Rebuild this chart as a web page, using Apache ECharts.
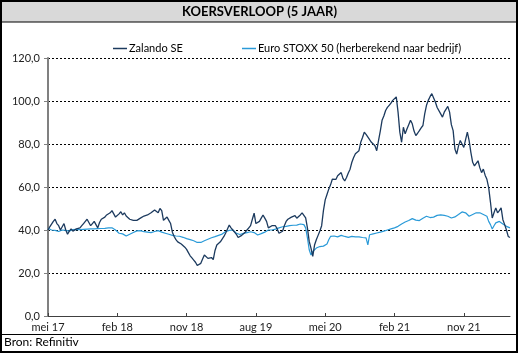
<!DOCTYPE html>
<html>
<head>
<meta charset="utf-8">
<script src="https://cdn.jsdelivr.net/npm/echarts@6/dist/echarts.min.js"></script>
<style>
html,body{margin:0;padding:0;background:#fff;}
#c{width:519px;height:356px;}
</style>
</head>
<body>
<div id="c"></div>
<script>
const titleText = 'KOERSVERLOOP (5 JAAR)';
const sourceText = 'Bron: Refinitiv';
const seriesNames = ['Zalando SE', 'Euro STOXX 50 (herberekend naar bedrijf)'];
const xTickLabels = ['mei 17', 'feb 18', 'nov 18', 'aug 19', 'mei 20', 'feb 21', 'nov 21'];
const xTickIndex = [0, 39, 78, 117, 156, 195, 234];
const yTicks = [0, 20, 40, 60, 80, 100, 120];

const zalando = [
40,41.5,42,44,45,43,42,40,41.5,43,40,38,39.5,40.5,39.5,40,40.5,40,41,42,
43,44,45,43.5,42,43,44,42.5,41,43.5,45,45.5,46,47,47.5,48,49,47.5,46,46.5,
47.5,48.5,47,48,46.5,46,45,45.5,44.5,44,44.5,45,45.5,46,46.5,46,47,47.5,48,48.5,
49.3,49,48,50,49,44.5,45,46,44.5,43,39,37,35.5,34.5,34,33.5,33,32,31,29.5,
28,27,26,25,23.5,23.2,24.5,26.5,28.4,27.5,26.8,27.5,27.2,26.2,30.5,33,33.5,34.5,35.3,37,
38.6,40.5,42.3,41,40,39,38,36.5,37,37.5,38,39,40,41,42,45,47.8,43,43.5,44,
45.5,47,45.5,44,41,41.5,42,42.5,42,40.5,38.5,37.8,39.4,42,44,45,45.6,46,46.4,46.7,
45.5,44.8,47,48,48.7,45.6,41,34.7,31.6,27.7,33,35.5,37.5,39.5,42,49,54,56.5,59,61,
63.6,62.8,63.5,65.2,66,66.7,64,62.8,64.4,66.5,68.3,71.5,73.7,75.5,76,76.9,80.8,83,85.5,84.5,
83.9,82,80.8,80,79.2,76.9,81.6,86,91,93,95.6,97,98,99,100.3,101,101.9,94.8,85.5,80.8,
87.8,84.7,87,89,91,89.4,86,83.9,85,86.2,87.5,88.6,94,98,100.3,102,103.4,102.7,99.5,97,
96.4,94,92.5,94.8,95.5,97.5,94.8,89,86.2,77.7,75.3,79,81.6,82.3,78.4,82,85.5,81.6,76,71.5,
69.8,70.6,72.2,69,66.7,68.3,65.5,63.6,59.7,53,45.6,48,50.3,48,49,50.3,44.8,42.5,40,37,
36.5
];

const stoxx = [
40.8,40.5,40,40.3,39.8,39.5,39.3,39.8,40,39.6,39.8,39.3,39.5,39.8,40.2,40,40.3,40,40.2,40.5,
40.3,40.5,40.4,40.2,40.5,40.3,40.5,40.3,40.6,40.4,40.7,40.5,40.8,40.6,41,40.8,41,40.5,40,39.2,
38.5,38.8,38.2,37.8,37.2,37.5,38,38.5,38.8,39.3,39.6,40,39.7,39.5,39.2,39.3,39,38.8,38.8,39.1,
39.3,39.5,39.7,39.4,39,38.7,38.5,38.2,38,37.7,37.5,37.3,37.2,37,37.1,36.9,36.6,36.2,36,35.8,
35.5,35.3,35,34.6,34.2,33.8,34.2,34.7,35,35.3,35.7,36,36.4,36.6,36.9,37.2,37.5,37.7,38.1,38.7,
39.3,39.6,39.8,40,40,39.3,38.5,37.7,37.9,38.2,38.4,38.5,38.8,39,39.2,39.3,38.8,38.2,37.7,38,
38.3,38.5,39,39.5,40,40.2,40,40.2,40.4,40.3,41,41.2,41.5,41.6,41.7,41.9,42,42.1,42.2,42.1,
42.3,42.2,42.8,43.3,42.5,41,36.3,30.8,28.4,30,30.8,31.6,32,32.3,32,32.5,32.3,33.5,35.5,37,
36.8,37.2,37,36.8,37.3,37.5,37.5,37,36.3,36.6,36.9,37,37.2,36.8,37,36.8,36.6,36.5,36.3,36.3,
33.1,37.8,38,38.2,38.4,38.6,38.8,39,39.4,39.5,39.7,40,40.2,40.5,40.8,41,41.3,41.7,42.2,42.8,
43.3,43.7,44,44.4,44.9,45.3,45,44.6,44.4,44.4,45,45.5,46,46.4,46.2,45.8,45.6,46,46.4,46.8,
47.2,47,46.5,46.8,46.9,46.4,46,45.6,45.8,46.1,46.4,47.2,47.8,48.4,48.2,48,47.5,46.4,46.8,47.2,
47.6,48,48.4,48,47.6,47.2,46.8,46.4,44,42.5,40.5,42,43.3,43.8,44,43.5,42.8,42.3,41.7,41.5,
41
];

// weekly date categories (x domain)
const categories = [];
{
  const start = new Date(Date.UTC(2017, 4, 26));
  for (let i = 0; i < zalando.length; i++) {
    const d = new Date(start.getTime() + i * 7 * 86400000);
    categories.push(d.toISOString().slice(0, 10));
  }
}
const labelAt = {};
xTickIndex.forEach((idx, k) => { labelAt[idx] = xTickLabels[k]; });

const FONT = 'Lato, "Open Sans", sans-serif';
const chart = echarts.init(document.getElementById('c'), null, {renderer: 'canvas'});
chart.setOption({
  animation: false,
  backgroundColor: '#fff',
  grid: {left: 48, right: 9, top: 58, bottom: 40, containLabel: false},
  legend: [
    {data: [seriesNames[0]], left: 108, top: 38, icon: 'rect', itemWidth: 14, itemHeight: 1.5,
     itemGap: 0, textStyle: {fontFamily: FONT, fontSize: 11, color: '#000', padding: [0,0,0,-3]}},
    {data: [seriesNames[1]], left: 237, top: 38, icon: 'rect', itemWidth: 14, itemHeight: 1.5,
     itemGap: 0, textStyle: {fontFamily: FONT, fontSize: 11, color: '#000', padding: [0,0,0,-3]}}
  ],
  xAxis: {
    type: 'category',
    data: categories,
    boundaryGap: false,
    axisLine: {lineStyle: {color: '#404040', width: 1}},
    axisTick: {show: true, length: 3, inside: true, interval: (i) => labelAt[i] !== undefined, lineStyle: {color: '#404040'}},
    axisLabel: {interval: (i) => labelAt[i] !== undefined, formatter: (v, i) => labelAt[i] || '',
      fontFamily: FONT, fontSize: 11, color: '#222', margin: 6},
    splitLine: {show: false}
  },
  yAxis: {
    type: 'value',
    min: 0, max: 120, interval: 20,
    axisLine: {show: true, lineStyle: {color: '#808080', width: 2}},
    axisTick: {show: true, length: 4, lineStyle: {color: '#808080'}},
    axisLabel: {formatter: (v) => v.toFixed(1).replace('.', ','), fontFamily: FONT, fontSize: 11, color: '#222', margin: 8},
    splitLine: {show: true, lineStyle: {color: '#000', width: 1, type: [2, 2]}}
  },
  series: [
    {name: seriesNames[1], type: 'line', data: stoxx, showSymbol: false, symbol: 'none',
     itemStyle: {color: '#2a9ad8'}, lineStyle: {color: '#2a9ad8', width: 1.2}, z: 2},
    {name: seriesNames[0], type: 'line', data: zalando, showSymbol: false, symbol: 'none',
     itemStyle: {color: '#1c3a5e'}, lineStyle: {color: '#1c3a5e', width: 1.3}, z: 3}
  ],
  graphic: [
    {type: 'rect', z: -1, shape: {x: 1, y: 1, width: 516, height: 21}, style: {fill: '#d9d9d9', stroke: '#000', lineWidth: 1}},
    {type: 'text', left: 'center', top: 5, style: {text: titleText, font: 'bold 13px ' + FONT, fill: '#000'}},
    {type: 'line', shape: {x1: 1, y1: 334.5, x2: 517, y2: 334.5}, style: {stroke: '#000', lineWidth: 1}},
    {type: 'text', left: 4, top: 336, style: {text: sourceText, font: '12px ' + FONT, fill: '#000'}},
    {type: 'rect', z: 100, shape: {x: 1, y: 1, width: 516, height: 351}, style: {fill: 'none', stroke: '#000', lineWidth: 2}}
  ]
});
</script>
</body>
</html>
